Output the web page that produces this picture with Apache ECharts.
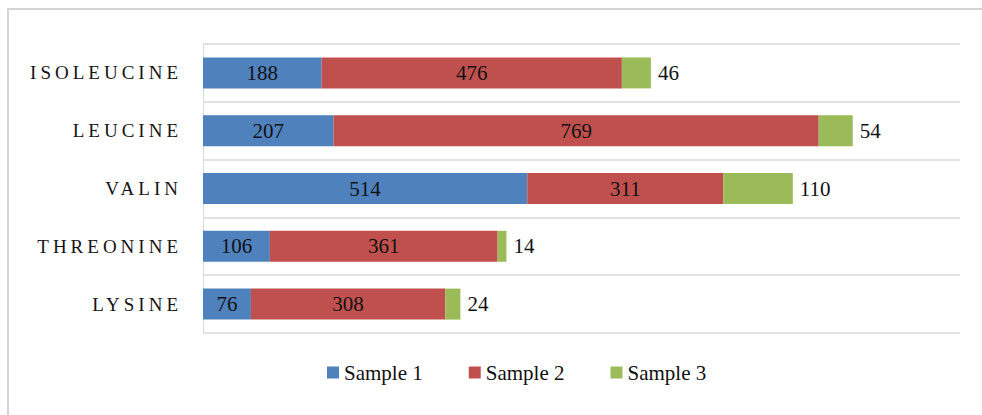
<!DOCTYPE html>
<html>
<head>
<meta charset="utf-8">
<script src="https://cdn.jsdelivr.net/npm/echarts@6/dist/echarts.min.js"></script>
<style>
  html, body { margin: 0; padding: 0; background: #fff; }
  #chart { width: 982px; height: 415px; }
  /* spaced capitals for the amino-acid names */
  #chart text[fill="#151515"] { letter-spacing: 4px; }
</style>
</head>
<body>
<div id="chart"></div>
<script>
// Amino acid content per sample
const categories = ['ISOLEUCINE', 'LEUCINE', 'VALIN', 'THREONINE', 'LYSINE'];
const seriesNames = ['Sample 1', 'Sample 2', 'Sample 3'];
const sample1 = [188, 207, 514, 106, 76];
const sample2 = [476, 769, 311, 361, 308];
const sample3 = [46, 54, 110, 14, 24];
const colors = ['#4F81BD', '#C0504D', '#9BBB59'];

const serif = '"Liberation Serif", "Times New Roman", serif';
const chart = echarts.init(document.getElementById('chart'), null, { renderer: 'svg' });

const labelText = { fontFamily: serif, fontSize: 21, color: '#111' };

chart.setOption({
  animation: false,
  color: colors,
  graphic: [{
    type: 'rect',
    shape: { x: 8, y: 9, width: 1000, height: 430 },
    style: { fill: 'none', stroke: '#d4d4d4', lineWidth: 2 },
    silent: true
  }],
  grid: { left: 203, right: 22, top: 44, bottom: 82 },
  legend: {
    data: seriesNames,
    left: 322,
    top: 357,
    icon: 'rect',
    itemWidth: 12,
    itemHeight: 12,
    itemGap: 46,
    textStyle: { fontFamily: serif, fontSize: 21, color: '#111' }
  },
  xAxis: {
    type: 'value',
    min: 0,
    max: 1200,
    axisLabel: { show: false },
    axisLine: { show: false },
    axisTick: { show: false },
    splitLine: { show: false }
  },
  yAxis: {
    type: 'category',
    data: categories,
    inverse: true,
    axisLine: { show: true, lineStyle: { color: '#d9d9d9', width: 1 } },
    axisTick: { show: false },
    splitLine: { show: true, lineStyle: { color: '#d9d9d9', width: 1.5 } },
    axisLabel: {
      fontFamily: serif,
      fontSize: 19,
      color: '#151515',
      margin: 21
    }
  },
  series: [
    {
      name: seriesNames[0], type: 'bar', stack: 'total', data: sample1,
      barWidth: 31,
      label: Object.assign({ show: true, position: 'inside' }, labelText)
    },
    {
      name: seriesNames[1], type: 'bar', stack: 'total', data: sample2,
      barWidth: 31,
      label: Object.assign({ show: true, position: 'inside' }, labelText)
    },
    {
      name: seriesNames[2], type: 'bar', stack: 'total', data: sample3,
      barWidth: 31,
      label: Object.assign({ show: true, position: 'right', distance: 7 }, labelText)
    }
  ]
});
</script>
</body>
</html>
